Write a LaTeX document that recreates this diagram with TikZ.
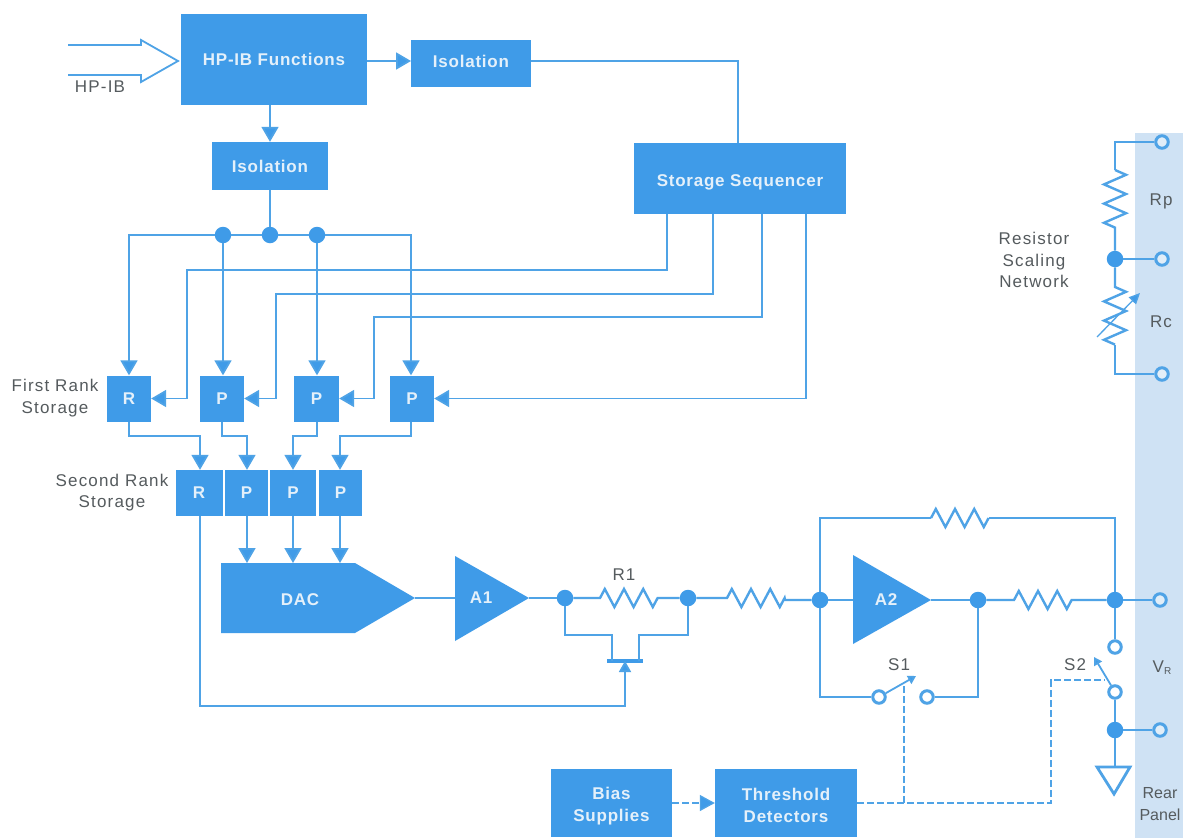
\documentclass[tikz,border=0pt]{standalone}
\usepackage{fontspec}
\setmainfont{Liberation Sans}
\newfontfamily\lblfont[LetterSpace=7]{Liberation Sans}
\newfontfamily\boxfont[LetterSpace=4.5]{Liberation Sans}
\usetikzlibrary{arrows.meta,calc}
\definecolor{bl}{HTML}{3F9BE8}
\definecolor{wirec}{HTML}{4FA3E6}
\definecolor{band}{HTML}{CFE2F4}
\definecolor{txt}{HTML}{555B5E}
\definecolor{boxt}{HTML}{E4F0FA}
\newcommand{\zigh}{-- ++(4.8,-9) -- ++(9.6,18) -- ++(9.6,-18) -- ++(9.6,18) -- ++(9.6,-18) -- ++(9.6,18) -- ++(4.8,-9)}
\newcommand{\zigv}{-- ++(11,4.8) -- ++(-22,9.6) -- ++(22,9.6) -- ++(-22,9.6) -- ++(22,9.6) -- ++(-22,9.6) -- ++(11,4.8)}
\tikzset{
  wire/.style={draw=wirec,line width=1.8pt},
  zwire/.style={draw=wirec,line width=2.4pt,line join=miter},
  arr/.style={wire,-{Triangle[length=15pt,width=17pt,fill=bl]}},
  dashwire/.style={wire,line width=1.3pt,dash pattern=on 7pt off 3pt},
  bbox/.style={fill=bl,draw=none,inner sep=0pt,text=boxt,font=\boxfont\bfseries\fontsize{17}{22}\selectfont,align=center},
  rankbox/.style={bbox,minimum height=46pt},
  lbl/.style={text=txt,font=\lblfont\fontsize{17}{21.5}\selectfont,align=center,inner sep=0pt},
  dot/.style={circle,fill=bl,draw=none,minimum size=16.5pt,inner sep=0pt},
  term/.style={circle,draw=wirec,line width=3pt,fill=white!40!band,minimum size=12.5pt,inner sep=0pt},
}
\begin{document}
\begin{tikzpicture}[x=1pt,y=-1pt]
\useasboundingbox (0,0) rectangle (1183,838);
\fill[white] (0,0) rectangle (1183,838);
\fill[band] (1135,133) rectangle (1183,838);

% boxes
\node[bbox,minimum width=186pt,minimum height=91pt] (func) at (274,59.5) {HP-IB Functions};
\node[bbox,minimum width=120pt,minimum height=47pt] (iso1) at (471,63.5) {\raisebox{-3.5pt}[0pt][0pt]{Isolation}};
\node[bbox,minimum width=116pt,minimum height=48pt] (iso2) at (270,166) {Isolation};
\node[bbox,minimum width=212pt,minimum height=71pt] (seq) at (740,178.5) {\raisebox{-7.5pt}[0pt][0pt]{Storage Sequencer}};
\node[rankbox,minimum width=44pt] (fr) at (129,398.5) {R};
\node[rankbox,minimum width=44pt] (fp1) at (222,398.5) {P};
\node[rankbox,minimum width=45pt] (fp2) at (316.5,398.5) {P};
\node[rankbox,minimum width=44pt] (fp3) at (412,398.5) {P};
\node[rankbox,minimum width=47pt] (sr) at (199,493) {R};
\node[rankbox,minimum width=43pt] (sp1) at (246.5,493) {P};
\node[rankbox,minimum width=46pt] (sp2) at (293,493) {P};
\node[rankbox,minimum width=43pt] (sp3) at (340.5,493) {P};
\node[bbox,minimum width=121pt,minimum height=68pt] (bias) at (611.5,803) {\rule{0pt}{18pt}Bias\\Supplies};
\node[bbox,minimum width=142pt,minimum height=68pt] (thr) at (786,803) {\rule{0pt}{18pt}Threshold\\Detectors};

% DAC and amplifiers
\fill[bl] (221,563) -- (355,563) -- (415,598) -- (355,633) -- (221,633) -- cycle;
\node[bbox,fill=none] (dac) at (300,600) {DAC};
\coordinate (dacin1) at (247,563);
\coordinate (dacin2) at (293,563);
\coordinate (dacin3) at (340,563);
\coordinate (dacout) at (415,598);
\fill[bl] (455,556) -- (455,641) -- (529,598) -- cycle;
\node[bbox,fill=none] (aone) at (481,598) {A1};
\coordinate (a1in) at (455,598);
\coordinate (a1out) at (529,598);
\fill[bl] (853,555) -- (853,644) -- (931,600) -- cycle;
\node[bbox,fill=none] (atwo) at (886,600) {A2};
\coordinate (a2in) at (853,600);
\coordinate (a2out) at (931,600);

% junctions
\node[dot] (b1) at (223,235) {};
\node[dot] (b2) at (270,235) {};
\node[dot] (b3) at (317,235) {};
\node[dot] (j1) at (565,598) {};
\node[dot] (j2) at (688,598) {};
\node[dot] (j3) at (820,600) {};
\node[dot] (j4) at (978,600) {};
\node[dot] (j5) at (1115,600) {};
\node[dot] (j6) at (1115,730) {};
\node[dot] (j7) at (1115,259) {};

% terminals
\node[term] (t1) at (1162,142) {};
\node[term] (t2) at (1162,259) {};
\node[term] (t3) at (1162,374) {};
\node[term] (t4) at (1160,600) {};
\node[term] (t5) at (1160,730) {};
\node[term,fill=white] (s1a) at (879,697) {};
\node[term,fill=white] (s1b) at (927,697) {};
\node[term,fill=white] (s2a) at (1115,647) {};
\node[term,fill=white] (s2b) at (1115,692) {};

% HP-IB bus arrow
\draw[wirec,line width=1.8pt] (68,45) -- (141,45) -- (141,40) -- (178,61) -- (141,82) -- (141,75) -- (68,75);

% upper connectors
\coordinate (funcr) at (367,61);
\coordinate (isol) at (411,61);
\coordinate (isor) at (531,61);
\draw[arr] (funcr) -- (isol);
\draw[arr] (func.south -| iso2.north) -- (iso2.north);
\draw[wire] (isor) -| ([xshift=-2pt]seq.north);
\draw[wire] (iso2.south) -- (b2);
\draw[wire] (b1) -- (b2) -- (b3);
\coordinate (busl) at (129,235);
\coordinate (busr) at (411,235);
\draw[arr] (b1) -- (busl) -- (fr.north);
\draw[arr] (b1) -- (fp1.north -| b1);
\draw[arr] (b3) -- (fp2.north -| b3);
\draw[arr] (b3) -- (busr) -- (fp3.north -| busr);

% sequencer to first rank
\draw[arr] ([xshift=-73pt]seq.south) |- (187,270) -- (187,398.5) -- (fr.east);
\draw[arr] ([xshift=-27pt]seq.south) |- (276,294) -- (276,398.5) -- (fp1.east);
\draw[arr] ([xshift=22pt]seq.south) |- (374,317) -- (374,398.5) -- (fp2.east);
\draw[arr] ([xshift=66pt]seq.south) |- (fp3.east);

% first rank to second rank
\draw[arr] (fr.south) -- (129,436) -| (sr.north -| 200,0);
\draw[arr] (fp1.south) -- (222,436) -| (sp1.north -| 247,0);
\draw[arr] (fp2.south -| 317,0) -- (317,436) -| (sp2.north);
\draw[arr] (fp3.south -| 411,0) -- (411,436) -| (sp3.north -| 340,0);

% second rank to DAC
\draw[arr] (sp1.south -| 247,0) -- (dacin1);
\draw[arr] (sp2.south) -- (dacin2);
\draw[arr] (sp3.south -| 340,0) -- (dacin3);

% FET
\coordinate (gate) at (625,661);
\coordinate (fetl) at (612,661);
\coordinate (fetr) at (639,661);
\draw[bl,line width=3.5pt] (607,661) -- (643,661);
\draw[wire] (j1) -- (565,635) -| (fetl);
\draw[wire] (j2) -- (688,635) -| (fetr);
\draw[wire,-{Triangle[length=11pt,width=12pt,fill=bl]}] (sr.south -| 200,0) -- (200,706) -| (gate);

% main signal path
\draw[wire] (dacout) -- (a1in);
\draw[wire] (a1out) -- (j1);
\draw[zwire] (j1) -- (600,598) \zigh -- (j2);
\draw[zwire] (j2) -- (727,598) \zigh -- (785,600) -- (j3);
\draw[wire] (j3) -- (a2in);
\draw[wire] (a2out) -- (j4);
\draw[zwire] (j4) -- (1014,600) \zigh -- (j5);
\draw[wire] (j5) -- (t4);
\draw[wire] (j3) -- (820,518) -- (931,518);
\draw[zwire] (931,518) \zigh;
\draw[wire] (989,518) -- (1115,518) -- (j5);

% S1
\draw[wire] (j3) |- (s1a);
\draw[wire] (s1b) -| (j4);
\draw[wire,-{Triangle[length=8pt,width=9pt,fill=bl]}] (s1a) -- (916,676);
% S2
\draw[wire] (j5) -- (s2a);
\draw[wire,-{Triangle[length=8pt,width=9pt,fill=bl]}] (s2b) -- (1094,657);
\draw[wire] (s2b) -- (j6);
\draw[wire] (j6) -- (t5);
\draw[wire] (j6) -- (1115,767);
\draw[wirec,line width=2.8pt] (1097,767) -- (1130,767) -- (1114,794) -- cycle;

% dashed control
\draw[dashwire,-{Triangle[length=15pt,width=16pt,fill=bl]}] (bias.east) -- (thr.west);
\draw[dashwire] (thr.east) -- (1051,803) -- (1051,680) -- (1105,680);
\draw[dashwire] (904,803) -- (904,686);

% resistor network
\draw[wire] (t1) -- (1115,142) -- (1115,170);
\draw[zwire] (1115,170) \zigv -- (j7);
\draw[wire] (j7) -- (t2);
\draw[zwire] (j7) -- (1115,287) \zigv;
\draw[wire] (1115,345) -- (1115,374) -- (t3);
\draw[wirec,line width=1.3pt,-{Triangle[length=11pt,width=10pt,fill=bl]}] (1097,337) -- (1140,293);

% labels
\node[lbl] (hpib) at (100,87) {HP-IB};
\node[lbl] (first) at (55,398) {First Rank\\Storage};
\node[lbl] (second) at (112,492.5) {Second Rank\\Storage};
\node[lbl] (rone) at (624,575) {R1};
\node[lbl] (sone) at (899,665) {S1};
\node[lbl] (stwo) at (1075,665) {S2};
\node[lbl] (vr) at (1162,668) {V\raisebox{-2pt}{\fontsize{10}{10}\selectfont R}};
\node[lbl,font=\fontsize{16}{21.5}\selectfont] (rear) at (1160,804) {Rear\\Panel};
\node[lbl] (rp) at (1161,201) {Rp};
\node[lbl] (rc) at (1161,322) {Rc};
\node[lbl] (rsn) at (1034,260) {Resistor\\Scaling\\Network};
\end{tikzpicture}
\end{document}
